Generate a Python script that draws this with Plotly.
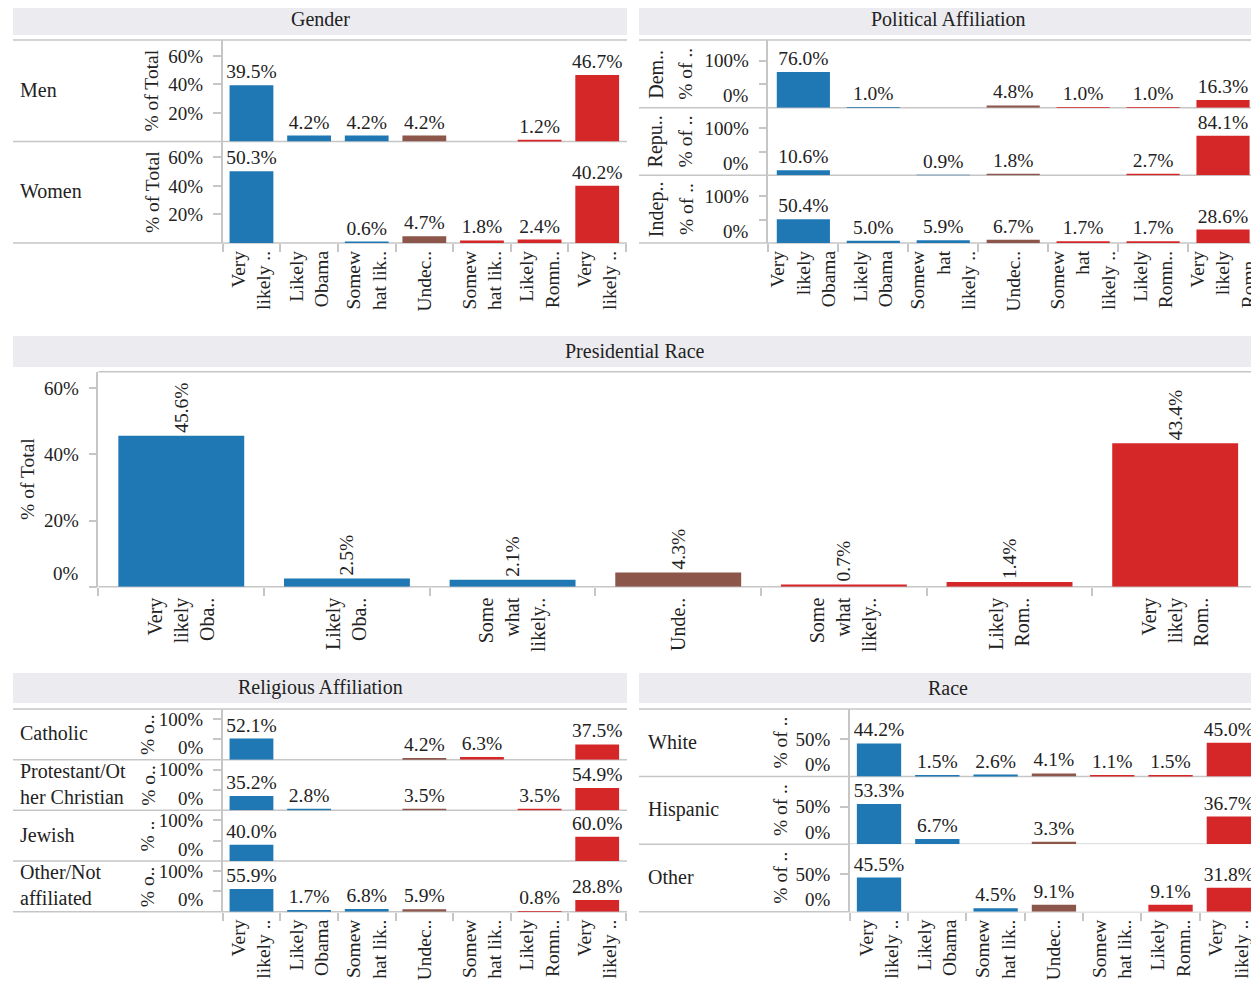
import plotly.graph_objects as go

W, H = 1259, 984          # browser window
PAGE_OFFSET = 8           # default body margin of the page
FIG_W, FIG_H = W - PAGE_OFFSET, H - PAGE_OFFSET
FONT = "Liberation Serif, Times New Roman, serif"
TEXT = "#222222"
LINE = "#c6c6c6"
HEADER_FILL = "#ececf0"

categories = ["Very likely Obama", "Likely Obama", "Somewhat likely Obama", "Undecided",
              "Somewhat likely Romney", "Likely Romney", "Very likely Romney"]
cat_colors = ["#1f77b4", "#1f77b4", "#1f77b4", "#8c564b", "#d62728", "#d62728", "#d62728"]

ticks_short = ["Very<br>likely ..", "Likely<br>Obama", "Somew<br>hat lik..", "Undec..",
               "Somew<br>hat lik..", "Likely<br>Romn..", "Very<br>likely .."]
ticks_political = ["Very<br>likely<br>Obama", "Likely<br>Obama", "Somew<br>hat<br>likely ..", "Undec..",
                   "Somew<br>hat<br>likely ..", "Likely<br>Romn..", "Very<br>likely<br>Romn.."]
ticks_total = ["Very<br>likely<br>Oba..", "Likely<br>Oba..", "Some<br>what<br>likely..", "Unde..",
               "Some<br>what<br>likely..", "Likely<br>Rom..", "Very<br>likely<br>Rom.."]

# % of total per category (None = no respondents)
total = [45.6, 2.5, 2.1, 4.3, 0.7, 1.4, 43.4]

gender_rows = ["Men", "Women"]
men = [39.5, 4.2, 4.2, 4.2, None, 1.2, 46.7]
women = [50.3, None, 0.6, 4.7, 1.8, 2.4, 40.2]

political_rows = ["Dem..", "Repu..", "Indep.."]
democrat = [76.0, 1.0, None, 4.8, 1.0, 1.0, 16.3]
republican = [10.6, None, 0.9, 1.8, None, 2.7, 84.1]
independent = [50.4, 5.0, 5.9, 6.7, 1.7, 1.7, 28.6]

religion_rows = ["Catholic", "Protestant/Ot<br>her Christian", "Jewish", "Other/Not<br>affiliated"]
religion_titles = ["% o..", "% o..", "% ..", "% o.."]
catholic = [52.1, None, None, 4.2, 6.3, None, 37.5]
protestant = [35.2, 2.8, None, 3.5, None, 3.5, 54.9]
jewish = [40.0, None, None, None, None, None, 60.0]
other_religion = [55.9, 1.7, 6.8, 5.9, None, 0.8, 28.8]

race_rows = ["White", "Hispanic", "Other"]
white = [44.2, 1.5, 2.6, 4.1, 1.1, 1.5, 45.0]
hispanic = [53.3, 6.7, None, 3.3, None, None, 36.7]
other_race = [45.5, None, 4.5, 9.1, None, 9.1, 31.8]


def fx(px):
    return (px - PAGE_OFFSET) / FIG_W


def fy(py):
    return 1 - (py - PAGE_OFFSET) / FIG_H


fig = go.Figure()
layout = {}
shapes = []
annotations = []
n_axes = 0


def font(size):
    return dict(family=FONT, size=size, color=TEXT)


def text(s, x, y, size=20, anchor="left", angle=0):
    annotations.append(dict(text=s, x=fx(x), y=fy(y), xref="paper", yref="paper",
                            xanchor=anchor, yanchor="middle", textangle=angle, align=anchor,
                            showarrow=False, font=font(size)))


def hline(y, x0, x1):
    shapes.append(dict(type="line", xref="paper", yref="paper", x0=fx(x0), x1=fx(x1),
                       y0=fy(y), y1=fy(y), line=dict(color=LINE, width=1.5), layer="below"))


def header(title, x0, x1, y0, y1):
    shapes.append(dict(type="rect", xref="paper", yref="paper", x0=fx(x0), x1=fx(x1),
                       y0=fy(y1), y1=fy(y0), fillcolor=HEADER_FILL, line=dict(width=0), layer="below"))
    text(title, (x0 + x1) / 2, (y0 + y1) / 2 - 0.5, size=20, anchor="center")


def bar_pane(values, x0, x1, y0, y1, ymax, tickvals, ticktext, xticks=None,
             zero_label=None, textangle=0, xtick_size=19.5, xtick_gap=3):
    """One row of bars in pixel box (x0..x1, y0..y1); xticks only on the bottom row."""
    global n_axes
    n_axes += 1
    s = "" if n_axes == 1 else str(n_axes)
    fig.add_trace(go.Bar(
        x=categories, y=values, marker_color=cat_colors, marker_line_width=0,
        xaxis="x" + s, yaxis="y" + s,
        texttemplate="%{y:.1f}%", textposition="outside", textangle=textangle,
        constraintext="none", cliponaxis=False,
        textfont=font(19.5), hoverinfo="skip",
    ))
    xa = dict(domain=[fx(x0), min(fx(x1), 1)], anchor="y" + s, type="category",
              categoryorder="array", categoryarray=categories,
              range=[-0.5, len(categories) - 0.5], showgrid=False, zeroline=False, showline=False)
    if xticks:
        xa.update(tickmode="array", tickvals=categories, ticktext=xticks, ticks="outside",
                  tickson="boundaries", ticklen=8, tickcolor=LINE, tickwidth=1.5, tickangle=-90,
                  ticklabelstandoff=xtick_gap, tickfont=font(xtick_size))
    else:
        xa.update(showticklabels=False, ticks="")
    ya = dict(domain=[fy(y1), fy(y0)], anchor="x" + s, range=[0, ymax],
              tickmode="array", tickvals=tickvals, ticktext=ticktext,
              ticks="outside", ticklen=8, tickcolor=LINE, tickwidth=1.5, ticklabelstandoff=6,
              showline=True, linecolor=LINE, linewidth=1.5, showgrid=False, zeroline=False,
              tickfont=font(19))
    layout["xaxis" + s] = xa
    layout["yaxis" + s] = ya
    if zero_label:
        annotations.append(dict(text="0%", x=fx(x0 - 17), xref="paper", xanchor="right",
                                y=0, yref="y" + s, yanchor="middle", yshift=zero_label,
                                showarrow=False, font=font(19)))


# ---- Gender ----
header("Gender", 12, 627, 4, 35)
g_top, g_bot, g_ax = 40, 243, 222
g_h = (g_bot - g_top) / 2
for i, (name, vals) in enumerate(zip(gender_rows, [men, women])):
    y0 = g_top + i * g_h
    bar_pane(vals, g_ax, 626, y0, y0 + g_h, 71.2, [20, 40, 60], ["20%", "40%", "60%"],
             xticks=ticks_short if i == 1 else None)
    text(name, 17, y0 + g_h / 2 - 1)
    text("% of Total", 151, y0 + g_h / 2, size=19.5, angle=-90, anchor="center")
    hline(y0, 12, 627)
hline(g_bot, 12, 627)

# ---- Political Affiliation ----
header("Political Affiliation", 639, 1259, 4, 35)
p_top, p_bot, p_ax = 40, 243, 768.6
p_h = (p_bot - p_top) / 3
for i, (name, vals) in enumerate(zip(political_rows, [democrat, republican, independent])):
    y0 = p_top + i * p_h
    bar_pane(vals, p_ax, 1259, y0, y0 + p_h, 144, [50, 100], ["", "100%"],
             xticks=ticks_political if i == 2 else None, zero_label=12)
    text(name, 656, y0 + p_h / 2, angle=-90, anchor="center")
    text("% of ..", 686, y0 + p_h / 2, size=19.5, angle=-90, anchor="center")
    hline(y0, 639, 1259)
hline(p_bot, 639, 1259)

# ---- Presidential Race ----
header("Presidential Race", 12, 1259, 336, 367)
bar_pane(total, 97.6, 1259, 371.7, 586.7, 65, [0, 20, 40, 60], ["", "20%", "40%", "60%"],
         xticks=ticks_total, zero_label=13, textangle=-90, xtick_size=20, xtick_gap=6)
text("% of Total", 26, 479, size=19.5, angle=-90, anchor="center")
hline(371.7, 97.6, 1259)
hline(586.7, 97.6, 1259)

# ---- Religious Affiliation ----
header("Religious Affiliation", 12, 627, 673, 703)
r_top, r_bot = 709, 911.7
r_h = (r_bot - r_top) / 4
for i, (name, ytitle, vals) in enumerate(zip(religion_rows, religion_titles,
                                              [catholic, protestant, jewish, other_religion])):
    y0 = r_top + i * r_h
    bar_pane(vals, g_ax, 626, y0, y0 + r_h, 125, [50, 100], ["", "100%"],
             xticks=ticks_short if i == 3 else None, zero_label=12)
    text(name, 17, y0 + r_h / 2 - 1)
    text(ytitle, 147, y0 + r_h / 2, size=19.5, angle=-90, anchor="center")
    hline(y0, 12, 627)
hline(r_bot, 12, 627)

# ---- Race ----
header("Race", 639, 1259, 673, 703)
c_top, c_bot, c_ax = 709, 911.7, 850.2
c_h = (c_bot - c_top) / 3
for i, (name, vals) in enumerate(zip(race_rows, [white, hispanic, other_race])):
    y0 = c_top + i * c_h
    bar_pane(vals, c_ax, 1259, y0, y0 + c_h, 90, [50], ["50%"],
             xticks=ticks_short if i == 2 else None, zero_label=12)
    text(name, 646, y0 + c_h / 2 - 1)
    text("% of ..", 781, y0 + c_h / 2, size=19.5, angle=-90, anchor="center")
    hline(y0, 639, 1259)
hline(c_bot, 639, 1259)

fig.update_layout(
    **layout,
    width=FIG_W, height=FIG_H, margin=dict(l=0, r=0, t=0, b=0),
    paper_bgcolor="white", plot_bgcolor="white",
    showlegend=False, bargap=0.24,
    shapes=shapes, annotations=annotations,
    font=font(18),
)
fig.write_html("out.html")
